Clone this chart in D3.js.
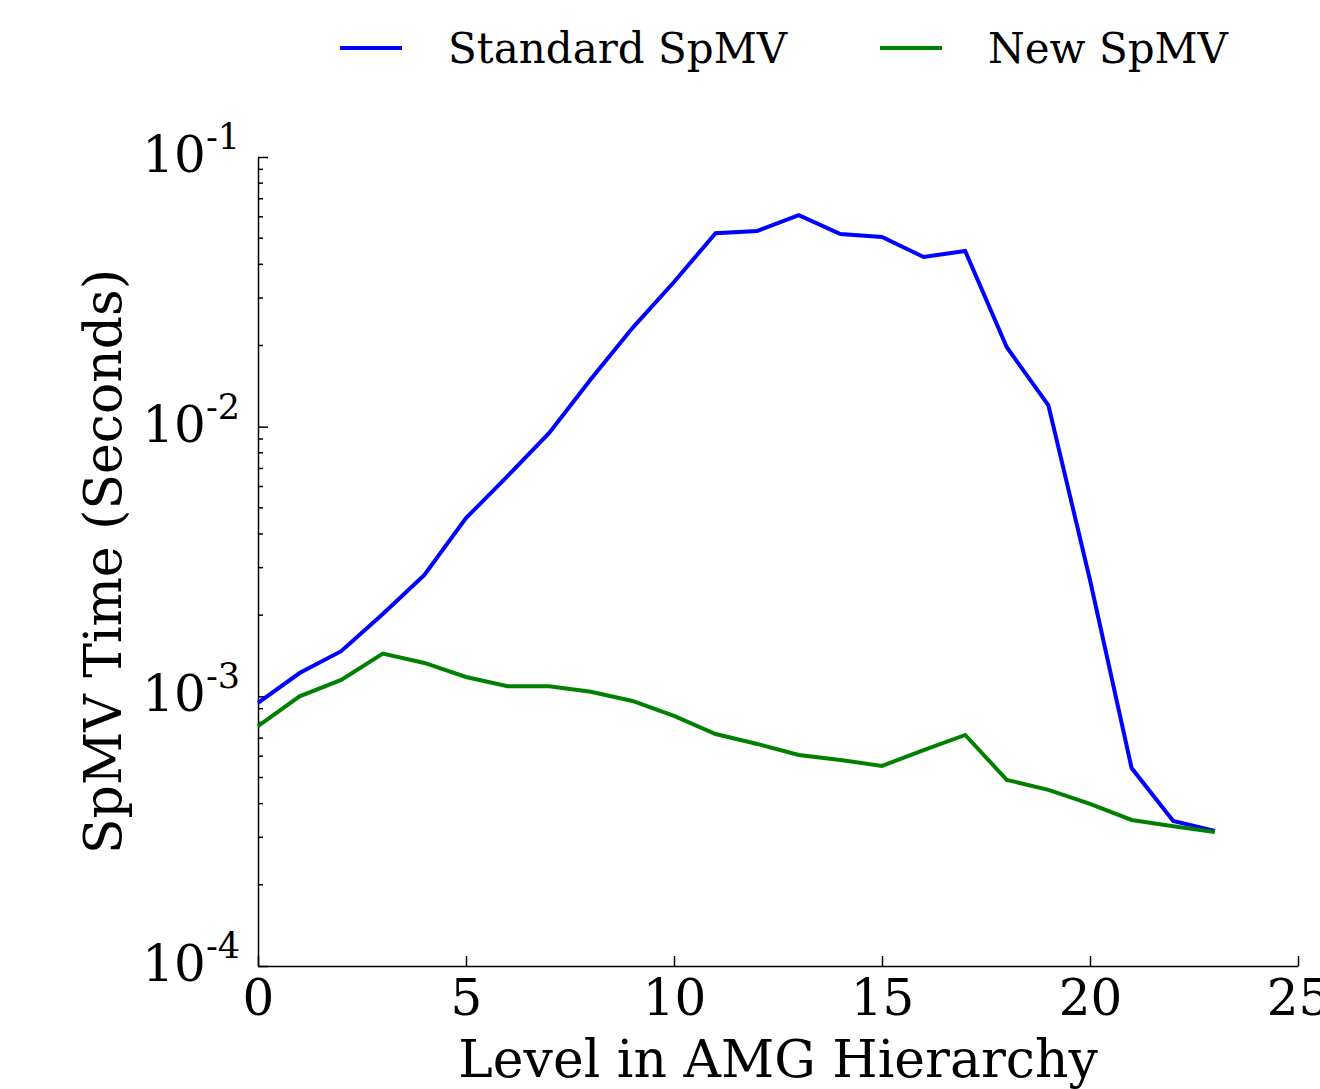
<!DOCTYPE html>
<html>
<head>
  <script src="https://d3js.org/d3.v7.min.js"></script>
  <style>
    body { margin: 0; background: #ffffff; }
    text { font-family: "DejaVu Serif", serif; fill: #000000; }
    .line { fill: none; stroke-width: 4; stroke-linejoin: miter; }
    .axis path, .axis line { stroke: #000000; stroke-width: 1.5; }
  </style>
</head>
<body>
<svg id="canvas" width="1320" height="1089"></svg>
<script>
  // AMG hierarchy levels
  const levels = d3.range(0, 24);

  // SpMV time (seconds) per level
  const standardSpMV = [9.45e-4, 1.22e-3, 1.47e-3, 2.02e-3, 2.82e-3, 4.58e-3, 6.56e-3, 9.48e-3,
                        1.50e-2, 2.32e-2, 3.44e-2, 5.22e-2, 5.32e-2, 6.09e-2, 5.18e-2, 5.05e-2,
                        4.26e-2, 4.48e-2, 1.97e-2, 1.20e-2, 2.70e-3, 5.42e-4, 3.45e-4, 3.17e-4];
  const newSpMV = [7.76e-4, 1.00e-3, 1.15e-3, 1.44e-3, 1.33e-3, 1.18e-3, 1.09e-3, 1.09e-3,
                   1.04e-3, 9.61e-4, 8.46e-4, 7.25e-4, 6.66e-4, 6.06e-4, 5.81e-4, 5.52e-4,
                   6.32e-4, 7.19e-4, 4.90e-4, 4.50e-4, 3.99e-4, 3.48e-4, 3.30e-4, 3.14e-4];

  const xTicks = [0, 5, 10, 15, 20, 25];
  const yTicks = [1e-4, 1e-3, 1e-2, 1e-1];

  const series = [
    { name: "Standard SpMV", values: standardSpMV, color: "#0000ff" },
    { name: "New SpMV", values: newSpMV, color: "#008000" }
  ];

  const svg = d3.select("#canvas");
  const margin = { left: 258, right: 22, top: 157, bottom: 123 };
  const width = 1320 - margin.left - margin.right;
  const height = 1089 - margin.top - margin.bottom;

  const x = d3.scaleLinear().domain([0, 25]).range([0, width]);
  const y = d3.scaleLog().domain([1e-4, 1e-1]).range([height, 0]);

  const g = svg.append("g").attr("transform", `translate(${margin.left},${margin.top})`);

  // bottom axis, ticks pointing inward
  const xAxis = g.append("g")
      .attr("class", "axis")
      .attr("transform", `translate(0,${height})`)
      .call(d3.axisBottom(x).tickValues(xTicks).tickSizeInner(-10).tickSizeOuter(0).tickPadding(0));
  xAxis.selectAll("text").attr("font-size", 50).attr("y", 49).attr("dy", null);

  // left axis: minor ticks inside
  const minor = [];
  for (let e = -4; e < -1; e++) {
    for (let m = 2; m <= 9; m++) minor.push(m * Math.pow(10, e));
  }
  g.append("g").attr("class", "axis")
      .selectAll("line.minor").data(minor).join("line")
      .attr("x1", 0).attr("x2", 5)
      .attr("y1", d => y(d)).attr("y2", d => y(d))
      .attr("stroke", "#000").attr("stroke-width", 1.2);

  g.append("g")
      .attr("class", "axis")
      .call(d3.axisLeft(y).tickValues(yTicks).tickSizeInner(-10).tickSizeOuter(0).tickFormat(""));
  const yLab = g.append("g").selectAll("text").data(yTicks).join("text")
      .attr("x", -18).attr("y", d => y(d) + 15)
      .attr("text-anchor", "end")
      .attr("font-size", 50);
  yLab.append("tspan").text("10");
  yLab.append("tspan").attr("dy", -23).attr("font-size", 35).text(d => "-" + Math.round(-Math.log10(d)));

  // lines
  const line = d3.line().x((d, i) => x(levels[i])).y(d => y(d));
  g.selectAll("path.line").data(series).join("path")
      .attr("class", "line")
      .attr("stroke", d => d.color)
      .attr("d", d => line(d.values));

  // axis titles
  svg.append("text")
      .attr("x", margin.left + width / 2).attr("y", 1077)
      .attr("text-anchor", "middle").attr("font-size", 52)
      .text("Level in AMG Hierarchy");
  svg.append("text")
      .attr("transform", `translate(121,${margin.top + height / 2}) rotate(-90)`)
      .attr("text-anchor", "middle").attr("font-size", 52)
      .text("SpMV Time (Seconds)");

  // legend
  const legendX = [340, 880];
  const legend = svg.append("g").selectAll("g").data(series).join("g")
      .attr("transform", (d, i) => `translate(${legendX[i]},48)`);
  legend.append("line").attr("x1", 0).attr("x2", 62)
      .attr("stroke", d => d.color).attr("stroke-width", 4);
  legend.append("text").attr("x", 108).attr("y", 15)
      .attr("font-size", 42).text(d => d.name);
</script>
</body>
</html>
